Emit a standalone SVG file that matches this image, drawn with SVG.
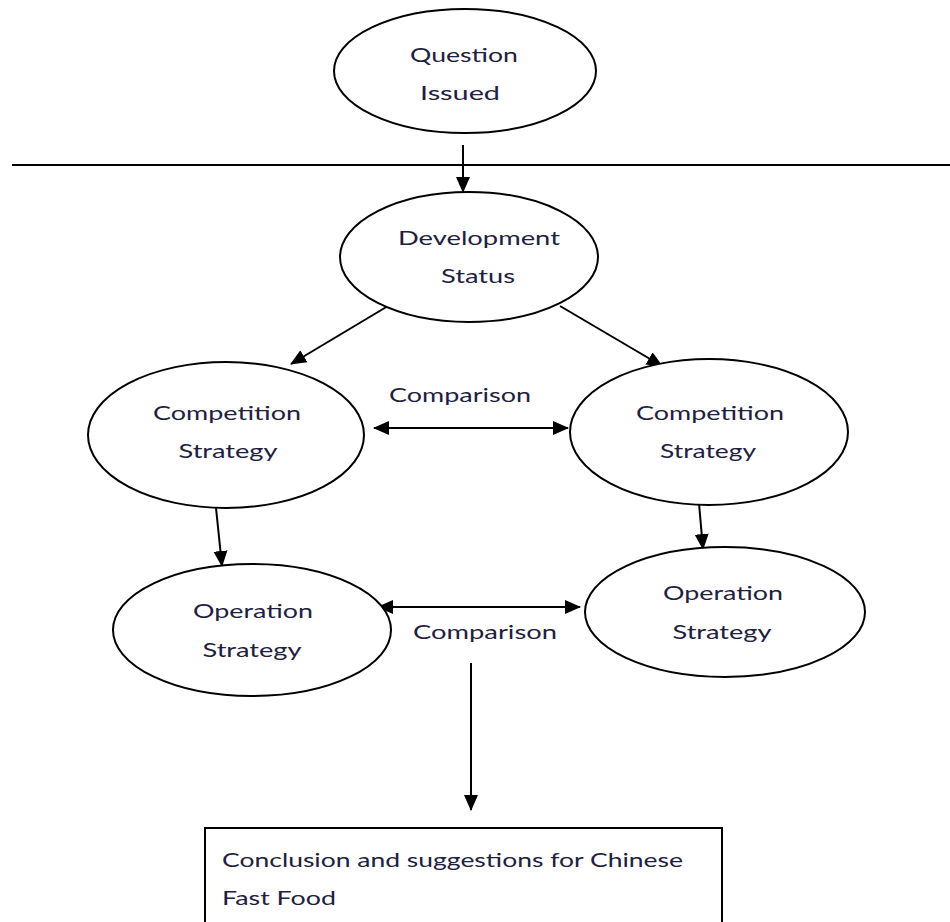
<svg xmlns="http://www.w3.org/2000/svg" width="950" height="922" viewBox="0 0 950 922">
<defs>
<marker id="ah" markerWidth="16" markerHeight="16" refX="15" refY="8" orient="auto-start-reverse" markerUnits="userSpaceOnUse">
<path d="M0,1 L16,8 L0,15 Z" fill="#000"/>
</marker>
</defs>
<style>
.n{fill:#fff;stroke:#000;stroke-width:2}
.t{font-family:Lato,"Open Sans",sans-serif;font-size:20px;fill:#1e2040;text-anchor:middle}
.tl{font-family:Lato,"Open Sans",sans-serif;font-size:20px;fill:#1e2040}
.c{stroke:#000;stroke-width:2;fill:none}
</style>
<rect width="950" height="922" fill="#fff"/>
<line x1="12" y1="165" x2="950" y2="165" stroke="#000" stroke-width="2"/>
<g id="connectors">
<line class="c" x1="463" y1="145" x2="463" y2="192" marker-end="url(#ah)"/>
<line class="c" x1="388" y1="306" x2="291" y2="364" marker-end="url(#ah)"/>
<line class="c" x1="560" y1="306" x2="662" y2="366" marker-end="url(#ah)"/>
<line class="c" x1="374" y1="428" x2="568" y2="428" marker-start="url(#ah)" marker-end="url(#ah)"/>
<line class="c" x1="216" y1="508" x2="222" y2="566" marker-end="url(#ah)"/>
<line class="c" x1="698" y1="492" x2="703" y2="549" marker-end="url(#ah)"/>
<line class="c" x1="378" y1="607" x2="580" y2="607" marker-start="url(#ah)" marker-end="url(#ah)"/>
<line class="c" x1="471" y1="663" x2="471" y2="810" marker-end="url(#ah)"/>
</g>
<g id="question">
<ellipse class="n" cx="465" cy="71" rx="131" ry="62"/>
<text class="t" x="464" y="62" textLength="108" lengthAdjust="spacingAndGlyphs">Question</text>
<text class="t" x="460" y="100" textLength="80" lengthAdjust="spacingAndGlyphs">Issued</text>
</g>
<g id="development">
<ellipse class="n" cx="469" cy="257" rx="129" ry="65"/>
<text class="t" x="479" y="245" textLength="162" lengthAdjust="spacingAndGlyphs">Development</text>
<text class="t" x="478" y="283" textLength="74" lengthAdjust="spacingAndGlyphs">Status</text>
</g>
<g id="comp-left">
<ellipse class="n" cx="226" cy="435" rx="138" ry="73"/>
<text class="t" x="227" y="420" textLength="148" lengthAdjust="spacingAndGlyphs">Competition</text>
<text class="t" x="228" y="458" textLength="99" lengthAdjust="spacingAndGlyphs">Strategy</text>
</g>
<g id="comp-right">
<ellipse class="n" cx="709" cy="432" rx="139" ry="73"/>
<text class="t" x="710" y="420" textLength="148" lengthAdjust="spacingAndGlyphs">Competition</text>
<text class="t" x="708" y="458" textLength="96" lengthAdjust="spacingAndGlyphs">Strategy</text>
</g>
<g id="label-comparison-1">
<text class="t" x="460" y="402" textLength="142" lengthAdjust="spacingAndGlyphs">Comparison</text>
</g>
<g id="op-left">
<ellipse class="n" cx="252" cy="630" rx="139" ry="66"/>
<text class="t" x="253" y="618" textLength="120" lengthAdjust="spacingAndGlyphs">Operation</text>
<text class="t" x="252" y="657" textLength="99" lengthAdjust="spacingAndGlyphs">Strategy</text>
</g>
<g id="op-right">
<ellipse class="n" cx="725" cy="612" rx="140" ry="65"/>
<text class="t" x="723" y="600" textLength="120" lengthAdjust="spacingAndGlyphs">Operation</text>
<text class="t" x="722" y="639" textLength="99" lengthAdjust="spacingAndGlyphs">Strategy</text>
</g>
<g id="label-comparison-2">
<text class="t" x="485" y="639" textLength="144" lengthAdjust="spacingAndGlyphs">Comparison</text>
</g>
<g id="conclusion">
<rect class="n" x="205" y="828" width="517" height="100"/>
<text class="tl" x="222" y="867" textLength="461" lengthAdjust="spacingAndGlyphs">Conclusion and suggestions for Chinese</text>
<text class="tl" x="222" y="905" textLength="114" lengthAdjust="spacingAndGlyphs">Fast Food</text>
</g>
</svg>
